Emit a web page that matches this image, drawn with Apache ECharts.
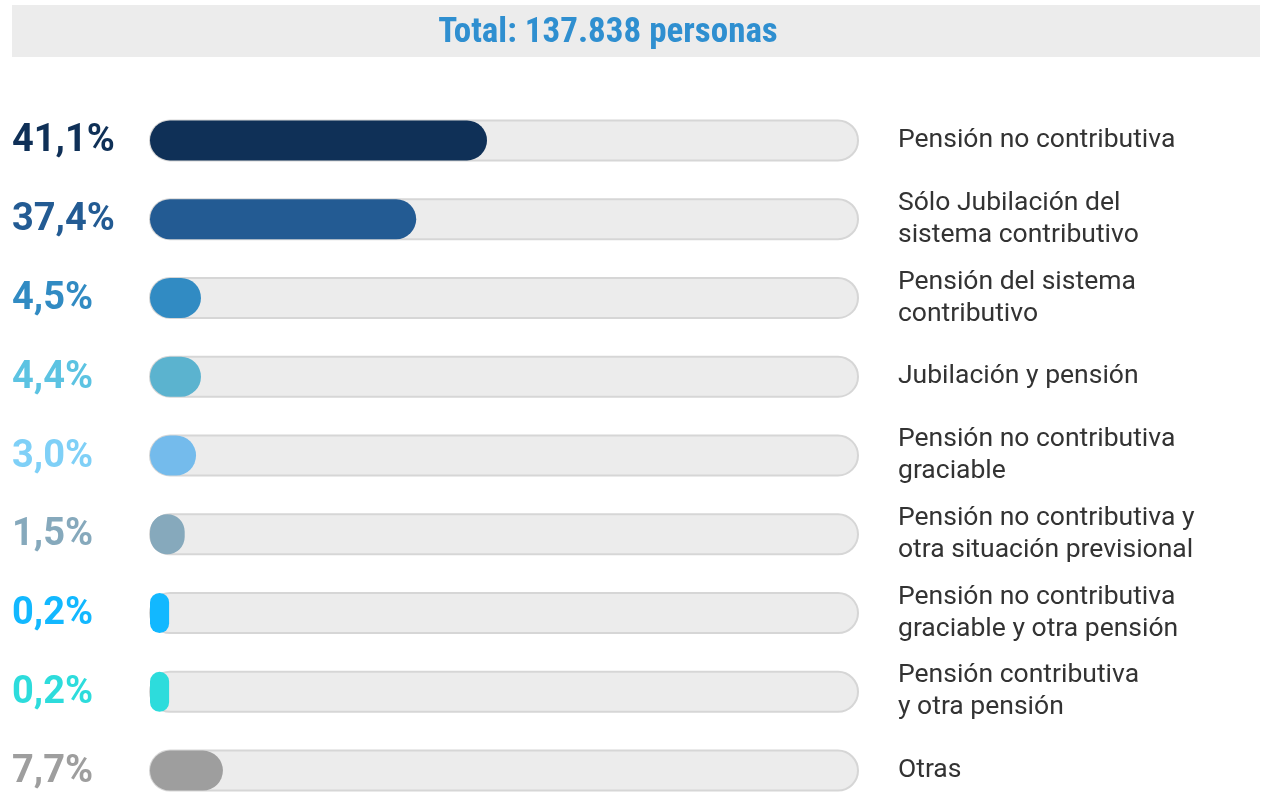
<!DOCTYPE html>
<html>
<head>
<meta charset="utf-8">
<script src="https://cdn.jsdelivr.net/npm/echarts@6/dist/echarts.min.js"></script>
<style>
  html, body { margin: 0; padding: 0; background: #fff; }
  #chart { width: 1263px; height: 798px; }
</style>
</head>
<body>
<div id="chart"></div>
<script>
// categories, top to bottom
const categories = [
  'Pensión no contributiva',
  'Sólo Jubilación del\nsistema contributivo',
  'Pensión del sistema\ncontributivo',
  'Jubilación y pensión',
  'Pensión no contributiva\ngraciable',
  'Pensión no contributiva y\notra situación previsional',
  'Pensión no contributiva\ngraciable y otra pensión',
  'Pensión contributiva\ny otra pensión',
  'Otras'
];
// printed share of each group (%)
const shares = [41.1, 37.4, 4.5, 4.4, 3.0, 1.5, 0.2, 0.2, 7.7];
// bar length as drawn in the picture, in % of the full track
const drawnLengths = [47.6, 37.6, 7.2, 7.2, 6.5, 4.9, 2.7, 2.7, 10.3];
const barColors = ['#0f3057', '#235b93', '#318bc3', '#5bb3cf', '#74bbec', '#86a9bc', '#12b8ff', '#2ddcdc', '#9e9e9e'];
const labelColors = ['#0f3057', '#235b93', '#318bc3', '#5cc3e2', '#7fd0f7', '#86a9bc', '#12b8ff', '#2ddcdc', '#9e9e9e'];
const totalText = 'Total: 137.838 personas';

const chart = echarts.init(document.getElementById('chart'));

const rich = {};
labelColors.forEach((c, i) => {
  rich['c' + i] = { color: c, fontSize: 38, fontWeight: 'bold', fontFamily: 'Roboto', padding: [3, 0, 0, 0] };
});

function fmtShare(v) {
  return v.toFixed(1).replace('.', ',') + '%';
}

chart.setOption({
  animation: false,
  graphic: [
    {
      type: 'rect',
      left: 12, top: 5,
      shape: { width: 1248, height: 52 },
      style: { fill: '#ececec' }
    },
    {
      type: 'text',
      x: 608, y: 33,
      style: {
        text: totalText,
        fill: '#2f8fd0',
        font: 'bold 35px "Roboto Condensed", "Liberation Sans Narrow", Roboto',
        textAlign: 'center',
        textVerticalAlign: 'middle'
      }
    }
  ],
  grid: { left: 150, top: 101, width: 708, height: 709, outerBoundsMode: 'none', containLabel: false },
  xAxis: {
    type: 'value', min: 0, max: 100,
    show: false
  },
  yAxis: [
    {
      type: 'category', inverse: true, data: categories,
      position: 'left',
      axisLine: { show: false }, axisTick: { show: false },
      axisLabel: {
        align: 'left', margin: 138,
        formatter: (v, i) => '{c' + i + '|' + fmtShare(shares[i]) + '}',
        rich: rich
      }
    },
    {
      type: 'category', inverse: true, data: categories,
      position: 'right',
      axisLine: { show: false }, axisTick: { show: false },
      axisLabel: {
        align: 'left', margin: 40,
        color: '#333333', fontSize: 26.5, lineHeight: 32, fontFamily: 'Roboto'
      }
    }
  ],
  series: [
    {
      type: 'bar',
      barWidth: 40,
      data: drawnLengths.map((v, i) => ({ value: v, itemStyle: { color: barColors[i] } })),
      itemStyle: { borderRadius: 20 },
      showBackground: true,
      backgroundStyle: {
        color: '#ececec',
        borderColor: '#d6d6d6',
        borderWidth: 2,
        borderRadius: 20
      }
    }
  ]
});
</script>
</body>
</html>
